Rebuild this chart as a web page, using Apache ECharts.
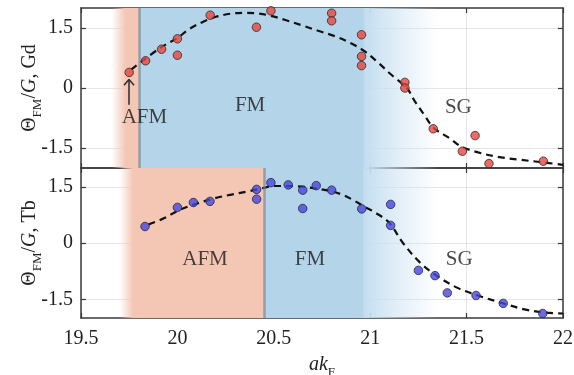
<!DOCTYPE html>
<html>
<head>
<meta charset="utf-8">
<script src="https://cdn.jsdelivr.net/npm/echarts@6/dist/echarts.min.js"></script>
<style>html,body{margin:0;padding:0;background:#fff;}#c{width:574px;height:375px;}</style>
</head>
<body>
<div id="c"></div>
<script>
// ---- data ----
const xTicks = [19.5, 20, 20.5, 21, 21.5, 22];
const yTicks = [-1.5, 0, 1.5];

// Gd (top panel) points
const gdX = [19.75, 19.835, 19.918, 20.0, 20.0, 20.17, 20.41, 20.485, 20.8, 20.8, 20.955, 20.955, 20.955, 21.18, 21.18, 21.327, 21.478, 21.544, 21.616, 21.898];
const gdY = [0.39, 0.68, 0.97, 1.23, 0.82, 1.82, 1.52, 1.93, 1.87, 1.68, 1.33, 0.79, 0.56, 0.14, 0.0, -1.02, -1.58, -1.19, -1.89, -1.83];
// Gd fitted curve
const gdFitX = [19.76, 19.91, 20.0, 20.06, 20.14, 20.2, 20.28, 20.36, 20.42, 20.48, 20.56, 20.65, 20.73, 20.82, 20.9, 20.97, 21.04, 21.11, 21.19, 21.23, 21.28, 21.33, 21.41, 21.47, 21.56, 21.66, 21.77, 21.88, 22.0];
const gdFitY = [0.46, 1.0, 1.25, 1.47, 1.67, 1.78, 1.86, 1.88, 1.86, 1.81, 1.7, 1.56, 1.43, 1.29, 1.12, 0.92, 0.64, 0.33, 0.0, -0.32, -0.67, -1.0, -1.25, -1.46, -1.61, -1.72, -1.79, -1.85, -1.92];

// Tb (bottom panel) points
const tbX = [19.832, 20.0, 20.083, 20.169, 20.411, 20.411, 20.485, 20.575, 20.65, 20.65, 20.72, 20.80, 20.956, 21.106, 21.106, 21.25, 21.336, 21.40, 21.549, 21.69, 21.895];
const tbY = [0.44, 0.95, 1.08, 1.11, 1.43, 1.17, 1.61, 1.55, 1.41, 0.92, 1.53, 1.41, 0.91, 1.03, 0.47, -0.73, -0.87, -1.33, -1.40, -1.61, -1.88];
// Tb fitted curve
const tbFitX = [19.85, 19.93, 20.01, 20.1, 20.19, 20.28, 20.36, 20.44, 20.5, 20.62, 20.77, 20.85, 20.91, 20.97, 21.03, 21.1, 21.17, 21.26, 21.35, 21.45, 21.57, 21.69, 21.8, 21.9, 22.0];
const tbFitY = [0.49, 0.66, 0.88, 1.05, 1.19, 1.29, 1.37, 1.46, 1.52, 1.51, 1.41, 1.3, 1.15, 0.97, 0.8, 0.53, 0.0, -0.53, -0.89, -1.19, -1.42, -1.61, -1.77, -1.85, -1.88];

// phase regions
const gdPhase = { afmFadeStart: 19.66, boundary: 19.8, fmSolidEnd: 20.96, fmFadeEnd: 21.36 };
const tbPhase = { afmFadeStart: 19.7, boundary: 20.45, fmSolidEnd: 20.96, fmFadeEnd: 21.36 };

// region labels
const gdLabels = ['AFM', 'FM', 'SG'];
const gdLabelX = [19.829, 20.377, 21.457];
const gdLabelY = [-0.74, -0.44, -0.48];
const tbLabels = ['AFM', 'FM', 'SG'];
const tbLabelX = [20.143, 20.688, 21.462];
const tbLabelY = [-0.45, -0.45, -0.45];

// arrow annotation (top panel)
const arrowX = 19.749, arrowFromY = -0.42, arrowToY = 0.21;

// ---- styling ----
const FONT = '"Liberation Serif", serif';
const SALMON = 'rgb(244,199,181)';
const SALMON0 = 'rgba(244,199,181,0)';
const BLUE = 'rgb(180,212,234)';
const BLUE_L = 'rgb(196,222,240)';
const BLUE0 = 'rgba(210,230,245,0)';
const FRAME = '#3a3a3a';

const zip = (a, b) => a.map((v, i) => [v, b[i]]);

function hgrad(stops) {
  return { type: 'linear', x: 0, y: 0, x2: 1, y2: 0, colorStops: stops };
}

function phaseAreas(p) {
  const afmSpan = p.boundary - p.afmFadeStart;
  const fmSpan = p.fmFadeEnd - p.boundary;
  const afmSolid = Math.min(0.999, 0.07 / afmSpan);
  const fmStop = (p.fmSolidEnd - p.boundary) / fmSpan;
  return [
    [{ xAxis: p.afmFadeStart, itemStyle: { color: hgrad([{ offset: 0, color: SALMON0 }, { offset: afmSolid, color: SALMON }, { offset: 1, color: SALMON }]) } }, { xAxis: p.boundary }],
    [{ xAxis: p.boundary, itemStyle: { color: hgrad([{ offset: 0, color: BLUE }, { offset: fmStop, color: BLUE }, { offset: Math.min(1, fmStop + 0.01), color: BLUE_L }, { offset: 1, color: BLUE0 }]) } }, { xAxis: p.fmFadeEnd }]
  ];
}

const axisLabelFont = { fontFamily: FONT, fontSize: 20, color: '#222' };
const rich = {
  t: { fontFamily: FONT, fontSize: 20, color: '#222', lineHeight: 22 },
  i: { fontFamily: FONT, fontSize: 20, color: '#222', fontStyle: 'italic', lineHeight: 22 },
  s: { fontFamily: FONT, fontSize: 13, color: '#222', verticalAlign: 'bottom', lineHeight: 29 }
};

function xAx(grid, pos, showLabels, name) {
  return {
    type: 'value', gridIndex: grid, position: pos, min: 19.5, max: 22, interval: 0.5,
    axisLine: { show: true, onZero: false, lineStyle: { color: FRAME, width: 1.5 } },
    axisTick: { show: true, inside: true, length: 5, lineStyle: { color: FRAME, width: 1.2 } },
    axisLabel: { show: showLabels, margin: 11, ...axisLabelFont, formatter: v => String(v) },
    splitLine: { show: pos === 'bottom', lineStyle: { color: 'rgba(0,0,0,0.1)', width: 1 } },
    name: name || '', nameLocation: 'middle', nameGap: 32, nameMoveOverlap: false,
    nameTextStyle: { rich }
  };
}
function yAx(grid, pos, name) {
  return {
    type: 'value', gridIndex: grid, position: pos, min: -2, max: 2,
    axisLine: { show: true, onZero: false, lineStyle: { color: FRAME, width: 1.5 } },
    axisTick: { show: true, inside: true, length: 5, customValues: yTicks, lineStyle: { color: FRAME, width: 1.2 } },
    axisLabel: { show: pos === 'left', margin: 8, customValues: yTicks, ...axisLabelFont, formatter: v => String(v) },
    splitLine: { show: pos === 'left', lineStyle: { color: 'rgba(0,0,0,0.1)', width: 1 } },
    name: name || '', nameLocation: 'middle', nameGap: 37, nameRotate: 90, nameMoveOverlap: false,
    nameTextStyle: { rich }
  };
}

function panelSeries(xi, yi, ptsX, ptsY, fitX, fitY, phase, color, labels, lx, ly) {
  const s = [];
  s.push({
    type: 'line', xAxisIndex: xi, yAxisIndex: yi, data: zip(fitX, fitY), smooth: 0.35,
    symbol: 'none', lineStyle: { color: '#111', width: 2.2, type: [7, 5] }, z: 3, silent: true,
    markArea: { silent: true, data: phaseAreas(phase), z: 1 },
    markLine: {
      silent: true, symbol: 'none', label: { show: false },
      lineStyle: { color: 'rgba(125,135,145,0.7)', width: 2.5, type: 'solid' },
      data: [{ xAxis: phase.boundary }]
    }
  });
  s.push({
    type: 'scatter', xAxisIndex: xi, yAxisIndex: yi, data: zip(ptsX, ptsY), symbolSize: 8.5,
    itemStyle: { color: color, borderColor: '#2a2a2a', borderWidth: 1 }, z: 5, silent: true
  });
  s.push({
    type: 'scatter', xAxisIndex: xi, yAxisIndex: yi, symbol: 'circle', symbolSize: 1,
    itemStyle: { color: 'rgba(0,0,0,0)' }, z: 6, silent: true,
    data: labels.map((n, i) => ({ name: n, value: [lx[i], ly[i]] })),
    label: { show: true, position: 'inside', formatter: p => p.name, fontFamily: FONT, fontSize: 21, color: '#1a1a1a' }
  });
  return s;
}

const series = [
  ...panelSeries(0, 0, gdX, gdY, gdFitX, gdFitY, gdPhase, '#e8463d', gdLabels, gdLabelX, gdLabelY),
  ...panelSeries(2, 2, tbX, tbY, tbFitX, tbFitY, tbPhase, '#4646e4', tbLabels, tbLabelX, tbLabelY),
  {
    type: 'line', xAxisIndex: 0, yAxisIndex: 0, symbol: 'none', silent: true, z: 4,
    data: [[arrowX, arrowFromY], [arrowX, arrowToY]],
    lineStyle: { color: '#2a2a2a', width: 1.5 }
  },
  {
    type: 'line', xAxisIndex: 0, yAxisIndex: 0, symbol: 'none', silent: true, z: 4,
    data: [[arrowX - 0.026, arrowToY - 0.14], [arrowX, arrowToY], [arrowX + 0.026, arrowToY - 0.14]],
    lineStyle: { color: '#2a2a2a', width: 1.5 }
  }
];

const chart = echarts.init(document.getElementById('c'), null, { renderer: 'canvas' });
chart.setOption({
  backgroundColor: '#fff',
  animation: false,
  grid: [
    { left: 81, top: 8, width: 482, height: 160, outerBoundsMode: 'none', containLabel: false },
    { left: 81, top: 168, width: 482, height: 150, outerBoundsMode: 'none', containLabel: false }
  ],
  xAxis: [
    xAx(0, 'bottom', false),
    xAx(0, 'top', false),
    xAx(1, 'bottom', true, '{i|ak}{s|F}'),
    xAx(1, 'top', false)
  ],
  yAxis: [
    yAx(0, 'left', '{t|Θ}{s|FM}{t|/}{i|G}{t|, Gd}'),
    yAx(0, 'right'),
    yAx(1, 'left', '{t|Θ}{s|FM}{t|/}{i|G}{t|, Tb}'),
    yAx(1, 'right')
  ],
  series: series
});
</script>
</body>
</html>
